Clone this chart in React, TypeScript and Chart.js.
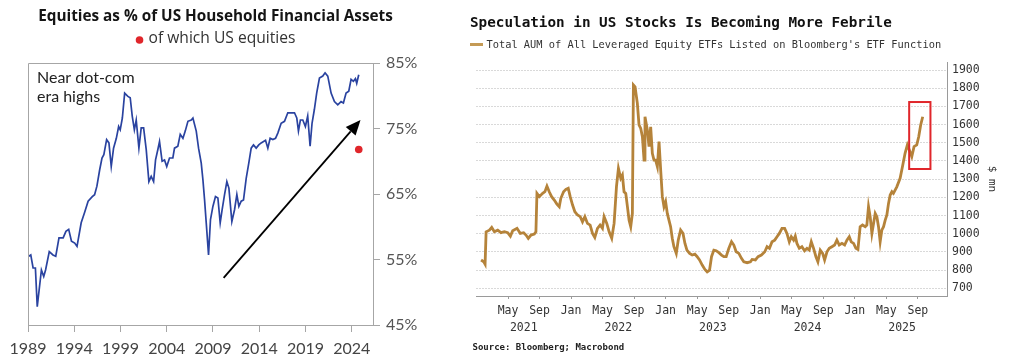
import React, { useEffect, useRef } from 'react';
import { Chart, registerables } from 'chart.js';

Chart.register(...registerables);

// ---------------- Left chart: equities share ----------------
const eqTitle = 'Equities as % of US Household Financial Assets';
const eqLegendText = 'of which US equities';
const eqNote = ['Near dot-com', 'era highs'];
const eqYears = [
  1989.0, 1989.3, 1989.55, 1989.8, 1990.0, 1990.45, 1990.7, 1990.9, 1991.3, 1991.7,
  1992.0, 1992.35, 1992.8, 1993.1, 1993.4, 1993.7, 1994.05, 1994.3, 1994.75, 1995.1,
  1995.5, 1995.95, 1996.2, 1996.45, 1996.75, 1997.0, 1997.2, 1997.5, 1997.75, 1998.0,
  1998.25, 1998.55, 1998.8, 1998.97, 1999.2, 1999.45, 1999.8, 2000.05, 2000.27, 2000.5,
  2000.7, 2000.99, 2001.24, 2001.5, 2001.78, 2002.07, 2002.32, 2002.58, 2002.79, 2003.04,
  2003.22, 2003.5, 2003.76, 2004.0, 2004.3, 2004.66, 2004.84, 2005.2, 2005.46, 2005.75,
  2006.0, 2006.29, 2006.65, 2006.83, 2007.19, 2007.44, 2007.73, 2007.91, 2008.09, 2008.27,
  2008.52, 2008.73, 2008.99, 2009.27, 2009.53, 2009.78, 2009.99, 2010.25, 2010.5, 2010.72,
  2011.04, 2011.33, 2011.58, 2011.8, 2012.05, 2012.3, 2012.59, 2012.87, 2013.13, 2013.38,
  2013.67, 2013.95, 2014.21, 2014.68, 2014.93, 2015.18, 2015.47, 2015.76, 2016.01, 2016.37,
  2016.73, 2017.09, 2017.45, 2017.81, 2018.06, 2018.24, 2018.45, 2018.71, 2018.99, 2019.24,
  2019.5, 2019.71, 2019.96, 2020.21, 2020.51, 2020.87, 2021.12, 2021.41, 2021.77, 2022.13,
  2022.49, 2022.85, 2023.1, 2023.39, 2023.68, 2023.93, 2024.18, 2024.4, 2024.54, 2024.76,
];
const eqShare = [
  55.4, 55.7, 53.7, 53.7, 47.8, 53.4, 52.4, 53.4, 56.2, 55.7,
  55.5, 58.3, 58.3, 59.3, 59.6, 57.8, 57.5, 57.0, 60.6, 62.1,
  63.9, 64.6, 64.9, 66.2, 68.7, 70.5, 71.0, 73.3, 72.8, 69.2,
  72.0, 73.5, 75.3, 74.8, 76.6, 80.4, 79.9, 79.7, 76.9, 74.8,
  76.3, 72.0, 75.1, 75.1, 71.8, 66.9, 67.7, 66.9, 70.2, 71.8,
  73.0, 70.0, 70.2, 69.2, 70.5, 70.5, 72.0, 72.3, 74.1, 73.5,
  74.6, 76.1, 76.3, 76.6, 74.6, 72.0, 69.7, 67.2, 64.1, 60.6,
  55.7, 61.1, 63.1, 64.6, 64.4, 60.6, 62.6, 64.9, 66.9, 65.9,
  60.8, 62.6, 64.9, 63.1, 63.9, 64.1, 67.4, 69.7, 72.0, 72.5,
  72.0, 72.5, 72.8, 73.2, 72.0, 73.5, 73.3, 73.5, 74.3, 75.8,
  76.1, 77.4, 77.4, 77.4, 76.6, 74.6, 76.3, 76.3, 75.3, 76.9,
  72.3, 75.8, 77.9, 80.4, 82.7, 83.0, 83.5, 83.0, 80.4, 79.1,
  78.6, 79.1, 78.9, 80.4, 80.7, 82.5, 82.2, 82.6, 81.9, 83.2,
];
const usEqYears = [2024.76];
const usEqShare = [71.8];
const eqYTicks = [45, 55, 65, 75, 85];
const eqXTicks = [1989, 1994, 1999, 2004, 2009, 2014, 2019, 2024];
const eqArrowFrom = [2010.15, 52.2];
const eqArrowTo = [2024.95, 76.3];

// ---------------- Right chart: leveraged ETF AUM ----------------
const aumTitle = 'Speculation in US Stocks Is Becoming More Febrile';
const aumLegendText = "Total AUM of All Leveraged Equity ETFs Listed on Bloomberg's ETF Function";
const aumSource = 'Source: Bloomberg; Macrobond';
const aumUnit = '$ mn';
// months since 1 Jan 2021
const aumMonths = [
  0.58, 0.92, 1.09, 1.22, 1.64, 1.93, 2.27, 2.69, 3.11, 3.54,
  3.96, 4.3, 4.59, 5.14, 5.56, 5.98, 6.28, 6.57, 6.91, 7.33,
  7.54, 7.67, 7.97, 8.39, 8.68, 8.94, 9.23, 9.53, 9.87, 10.2,
  10.5, 10.7, 11.05, 11.34, 11.64, 11.89, 12.19, 12.48, 12.82, 13.16,
  13.45, 13.75, 14.08, 14.42, 14.72, 15.01, 15.35, 15.68, 15.98, 16.19,
  16.53, 16.83, 17.16, 17.46, 17.76, 18.01, 18.3, 18.51, 18.72, 18.94,
  19.15, 19.36, 19.57, 19.78, 19.91, 20.12, 20.41, 20.62, 20.84, 21.05,
  21.26, 21.38, 21.68, 21.89, 22.1, 22.31, 22.52, 22.73, 22.95, 23.16,
  23.37, 23.58, 23.79, 24.0, 24.21, 24.42, 24.63, 24.84, 25.05, 25.35,
  25.6, 25.9, 26.2, 26.45, 26.7, 27.04, 27.37, 27.71, 28.0, 28.3,
  28.64, 28.98, 29.27, 29.57, 29.82, 30.12, 30.41, 30.75, 31.09, 31.39,
  31.68, 32.02, 32.36, 32.65, 32.95, 33.29, 33.62, 33.92, 34.34, 34.76,
  34.97, 35.39, 35.73, 36.15, 36.58, 36.87, 37.17, 37.5, 37.84, 38.13,
  38.43, 38.76, 39.1, 39.39, 39.69, 39.94, 40.24, 40.45, 40.66, 40.96,
  41.29, 41.63, 41.93, 42.22, 42.48, 42.77, 43.07, 43.32, 43.62, 43.92,
  44.17, 44.47, 44.76, 45.1, 45.44, 45.73, 46.03, 46.37, 46.71, 47.0,
  47.3, 47.55, 47.85, 48.14, 48.4, 48.68, 48.98, 49.32, 49.53, 49.74,
  49.95, 50.17, 50.38, 50.59, 50.8, 51.01, 51.22, 51.43, 51.65, 51.86,
  52.07, 52.28, 52.49, 52.71, 52.9, 53.33, 53.75, 54.09, 54.38, 54.67,
  54.92, 55.23, 55.52, 55.86, 56.11, 56.36, 56.62,
];
const aumValues = [
  856, 846, 833, 1011, 1020, 1035, 1011, 1020, 1006, 1011,
  1006, 987, 1017, 1030, 1002, 1006, 993, 975, 993, 998,
  1011, 1222, 1204, 1222, 1231, 1262, 1231, 1204, 1185, 1163,
  1149, 1195, 1231, 1244, 1250, 1204, 1158, 1121, 1103, 1094,
  1066, 1094, 1057, 1048, 1002, 980, 1030, 1048, 1030, 1094,
  1057, 1011, 975, 1057, 1259, 1359, 1305, 1323, 1231, 1222,
  1149, 1075, 1039, 1112, 1818, 1808, 1717, 1598, 1579, 1534,
  1405, 1643, 1570, 1479, 1588, 1442, 1405, 1405, 1369, 1506,
  1350, 1204, 1149, 1176, 1112, 1075, 1039, 975, 929, 892,
  965, 1020, 1002, 947, 910, 892, 883, 888, 874, 856,
  828, 804, 791, 800, 874, 910, 907, 896, 883, 874,
  874, 920, 956, 938, 901, 892, 865, 846, 841, 846,
  859, 856, 874, 883, 901, 929, 920, 956, 965, 984,
  1002, 1030, 1030, 1002, 956, 984, 965, 987, 947, 920,
  929, 907, 920, 910, 956, 920, 874, 846, 910, 892,
  856, 901, 920, 929, 938, 965, 938, 947, 938, 965,
  984, 956, 947, 920, 914, 1039, 1048, 1039, 1048, 1149,
  1094, 1002, 1057, 1112, 1094, 1039, 956, 1020, 1039, 1075,
  1103, 1167, 1213, 1231, 1222, 1258, 1305, 1378, 1442, 1488,
  1460, 1424, 1479, 1488, 1533, 1598, 1643,
];
const aumYTicks = [700, 800, 900, 1000, 1100, 1200, 1300, 1400, 1500, 1600, 1700, 1800, 1900];
const aumMonthTicks = [4, 8, 12, 16, 20, 24, 28, 32, 36, 40, 44, 48, 52, 56];
const aumMonthNames = ['Jan', 'May', 'Sep'];
const aumYears = ['2021', '2022', '2023', '2024', '2025'];
const aumBoxMonths = [54.9, 57.6];
const aumBoxValues = [1356, 1724];

const BLUE = '#2a43a0';
const GOLD = '#b5833a';
const RED = '#e0262b';
const LATO = 'Lato, "Open Sans", sans-serif';
const OPEN = '"Open Sans", Lato, sans-serif';
const MONO = '"DejaVu Sans Mono", "Liberation Mono", monospace';

function fitFont(ctx: CanvasRenderingContext2D, text: string, weight: string, family: string, width: number) {
  ctx.font = `${weight} 20px ${family}`;
  const w = ctx.measureText(text).width;
  const size = (20 * width) / w;
  ctx.font = `${weight} ${size.toFixed(2)}px ${family}`;
}

function drawArrow(ctx: CanvasRenderingContext2D, x1: number, y1: number, x2: number, y2: number) {
  const ang = Math.atan2(y2 - y1, x2 - x1);
  const head = 15;
  const half = 6.5;
  const bx = x2 - head * Math.cos(ang);
  const by = y2 - head * Math.sin(ang);
  ctx.save();
  ctx.strokeStyle = '#000';
  ctx.fillStyle = '#000';
  ctx.lineWidth = 1.8;
  ctx.beginPath();
  ctx.moveTo(x1, y1);
  ctx.lineTo(bx, by);
  ctx.stroke();
  ctx.beginPath();
  ctx.moveTo(x2, y2);
  ctx.lineTo(bx + half * Math.sin(ang), by - half * Math.cos(ang));
  ctx.lineTo(bx - half * Math.sin(ang), by + half * Math.cos(ang));
  ctx.closePath();
  ctx.fill();
  ctx.restore();
}

const eqDecor = {
  id: 'eqDecor',
  afterDraw(chart: any) {
    const { ctx, chartArea, scales } = chart;
    const xs = scales.x;
    const ys = scales.y;
    ctx.save();
    // frame top + left
    ctx.strokeStyle = '#a6a6a6';
    ctx.lineWidth = 1;
    ctx.beginPath();
    ctx.moveTo(chartArea.left + 0.5, chartArea.bottom);
    ctx.lineTo(chartArea.left + 0.5, chartArea.top + 0.5);
    ctx.lineTo(chartArea.right, chartArea.top + 0.5);
    ctx.stroke();
    // arrow
    drawArrow(
      ctx,
      xs.getPixelForValue(eqArrowFrom[0]), ys.getPixelForValue(eqArrowFrom[1]),
      xs.getPixelForValue(eqArrowTo[0]), ys.getPixelForValue(eqArrowTo[1])
    );
    // annotation text
    ctx.fillStyle = '#222';
    ctx.font = '16px ' + LATO;
    ctx.textAlign = 'left';
    ctx.textBaseline = 'middle';
    ctx.fillText(eqNote[0], 37, 78);
    ctx.fillText(eqNote[1], 37, 97);
    // title
    const cx = 215.5;
    ctx.fillStyle = '#151515';
    fitFont(ctx, eqTitle, '700', OPEN, 355);
    ctx.textAlign = 'center';
    ctx.fillText(eqTitle, cx, 17);
    // legend (dot + label)
    fitFont(ctx, eqLegendText, '400', OPEN, 147);
    const w = ctx.measureText(eqLegendText).width;
    const total = 8 + 5 + w;
    const sx = cx - total / 2;
    ctx.fillStyle = RED;
    ctx.beginPath();
    ctx.arc(sx + 4, 40, 3.8, 0, Math.PI * 2);
    ctx.fill();
    ctx.fillStyle = '#333';
    ctx.textAlign = 'left';
    ctx.fillText(eqLegendText, sx + 13, 39);
    ctx.restore();
  },
};

const aumDecor = {
  id: 'aumDecor',
  afterDatasetsDraw(chart: any) {
    const { ctx, scales } = chart;
    const xs = scales.x;
    const ys = scales.y;
    const x1 = xs.getPixelForValue(aumBoxMonths[0]);
    const x2 = xs.getPixelForValue(aumBoxMonths[1]);
    const y1 = ys.getPixelForValue(aumBoxValues[1]);
    const y2 = ys.getPixelForValue(aumBoxValues[0]);
    ctx.save();
    ctx.strokeStyle = RED;
    ctx.lineWidth = 2;
    ctx.strokeRect(x1, y1, x2 - x1, y2 - y1);
    ctx.restore();
  },
  afterDraw(chart: any) {
    const { ctx } = chart;
    ctx.save();
    ctx.textBaseline = 'middle';
    ctx.textAlign = 'left';
    ctx.fillStyle = '#111';
    ctx.font = 'bold 14.3px ' + MONO;
    ctx.fillText(aumTitle, 30, 23.5);
    // legend
    ctx.strokeStyle = '#c49a55';
    ctx.lineWidth = 3;
    ctx.beginPath();
    ctx.moveTo(30, 44.5);
    ctx.lineTo(43, 44.5);
    ctx.stroke();
    ctx.fillStyle = '#333';
    ctx.font = '10.35px ' + MONO;
    ctx.fillText(aumLegendText, 46.5, 45);
    // source
    ctx.fillStyle = '#222';
    ctx.font = 'bold 9px ' + MONO;
    ctx.fillText(aumSource, 32.5, 348);
    ctx.restore();
  },
};

export default function App() {
  const leftRef = useRef<HTMLCanvasElement>(null);
  const rightRef = useRef<HTMLCanvasElement>(null);

  useEffect(() => {
    const left = new Chart(leftRef.current as HTMLCanvasElement, {
      type: 'line',
      data: {
        datasets: [
          {
            label: 'Equities as % of US Household Financial Assets',
            data: eqYears.map((x, i) => ({ x, y: eqShare[i] })),
            borderColor: BLUE,
            borderWidth: 1.7,
            pointRadius: 0,
            tension: 0,
          },
          {
            type: 'scatter',
            label: eqLegendText,
            data: usEqYears.map((x, i) => ({ x, y: usEqShare[i] })),
            backgroundColor: RED,
            borderWidth: 0,
            pointRadius: 3.8,
          } as any,
        ],
      },
      options: {
        animation: false,
        responsive: false,
        events: [],
        layout: { padding: { left: 28, top: 63, right: 0, bottom: 0 } },
        plugins: { legend: { display: false }, title: { display: false }, tooltip: { enabled: false } },
        scales: {
          x: {
            type: 'linear',
            min: 1989,
            max: 2026.3,
            afterBuildTicks: (s: any) => { s.ticks = eqXTicks.map((v) => ({ value: v })); },
            afterFit: (s: any) => { s.height = 38; },
            grid: { display: true, drawOnChartArea: false, drawTicks: true, tickLength: 7, color: '#a6a6a6' },
            border: { display: true, color: '#a6a6a6' },
            ticks: {
              autoSkip: false, maxRotation: 0, padding: 7, color: '#444',
              font: { family: LATO, size: 16 },
              callback: (v: any) => String(v),
            },
          },
          y: {
            type: 'linear',
            position: 'right',
            min: 45,
            max: 85,
            afterBuildTicks: (s: any) => { s.ticks = eqYTicks.map((v) => ({ value: v })); },
            afterFit: (s: any) => { s.width = 67; },
            grid: { display: true, drawOnChartArea: false, drawTicks: true, tickLength: 7, color: '#a6a6a6' },
            border: { display: true, color: '#a6a6a6' },
            ticks: {
              padding: 6, color: '#555',
              font: { family: LATO, size: 16 },
              callback: (v: any) => v + '%',
            },
          },
        },
      } as any,
      plugins: [eqDecor],
    });

    const right = new Chart(rightRef.current as HTMLCanvasElement, {
      type: 'line',
      data: {
        datasets: [
          {
            label: aumLegendText,
            data: aumMonths.map((x, i) => ({ x, y: aumValues[i] })),
            borderColor: GOLD,
            borderWidth: 2.8,
            pointRadius: 0,
            tension: 0,
            xAxisID: 'x',
            yAxisID: 'y',
          },
        ],
      },
      options: {
        animation: false,
        responsive: false,
        events: [],
        layout: { padding: { left: 36.5, top: 62, right: 22, bottom: 27 } },
        plugins: { legend: { display: false }, title: { display: false }, tooltip: { enabled: false } },
        scales: {
          x: {
            type: 'linear',
            position: 'bottom',
            weight: 0,
            min: 0,
            max: 59.7,
            afterBuildTicks: (s: any) => { s.ticks = aumMonthTicks.map((v) => ({ value: v })); },
            afterFit: (s: any) => { s.height = 24; },
            grid: { display: true, drawOnChartArea: false, drawTicks: true, tickLength: 3, color: '#9a9a9a' },
            border: { display: true, color: '#9a9a9a' },
            ticks: {
              autoSkip: false, maxRotation: 0, padding: 5, color: '#333',
              font: { family: MONO, size: 11.5 },
              callback: (v: any) => aumMonthNames[(v % 12) / 4],
            },
          },
          x2: {
            type: 'linear',
            axis: 'x',
            position: 'bottom',
            weight: 1,
            min: 0,
            max: 59.7,
            afterBuildTicks: (s: any) => { s.ticks = aumYears.map((_, i) => ({ value: i * 12 + 6 })); },
            afterFit: (s: any) => { s.height = 16; },
            grid: { display: false, drawTicks: false },
            border: { display: false },
            ticks: {
              autoSkip: false, maxRotation: 0, padding: 1, color: '#333',
              font: { family: MONO, size: 11.5 },
              callback: (v: any) => aumYears[(v - 6) / 12],
            },
          },
          y: {
            type: 'linear',
            position: 'right',
            min: 658,
            max: 1944,
            afterBuildTicks: (s: any) => { s.ticks = aumYTicks.map((v) => ({ value: v })); },
            afterFit: (s: any) => { s.width = 55; },
            grid: { display: true, drawTicks: false, color: '#b3b3b3', lineWidth: 1 },
            border: { display: true, color: '#9a9a9a', dash: [1, 2] },
            ticks: {
              padding: 5, color: '#333',
              font: { family: MONO, size: 11.5 },
              callback: (v: any) => String(v),
            },
            title: {
              display: true, text: aumUnit, color: '#333',
              font: { family: MONO, size: 11 },
              padding: { top: 4, bottom: 4 },
            },
          },
        },
      } as any,
      plugins: [aumDecor],
    });

    return () => {
      left.destroy();
      right.destroy();
    };
  }, []);

  return (
    <div style={{ position: 'absolute', left: 0, top: 0, width: 1024, height: 363, background: '#fff', overflow: 'hidden' }}>
      <canvas ref={leftRef} width={440} height={363} style={{ position: 'absolute', left: 0, top: 0, width: 440, height: 363 }} />
      <canvas ref={rightRef} width={584} height={363} style={{ position: 'absolute', left: 440, top: 0, width: 584, height: 363 }} />
    </div>
  );
}
